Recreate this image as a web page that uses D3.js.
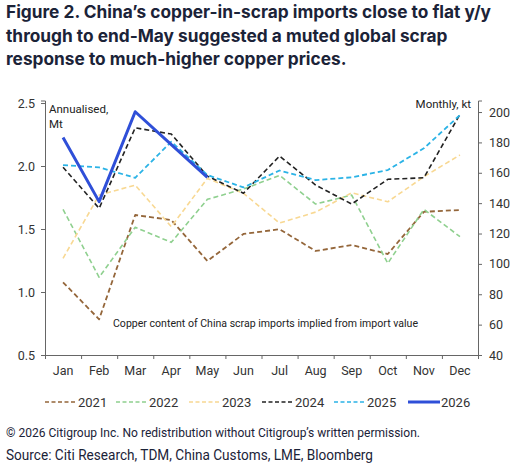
<!DOCTYPE html>
<html>
<head>
<meta charset="utf-8">
<script src="https://cdn.jsdelivr.net/npm/d3@7"></script>
<style>
  body { margin: 0; background: #fff; }
  svg { display: block; font-family: Roboto, "Open Sans", sans-serif; }
</style>
</head>
<body>
<div id="chart"></div>
<script>
// months on the x axis
const months = ['Jan', 'Feb', 'Mar', 'Apr', 'May', 'Jun', 'Jul', 'Aug', 'Sep', 'Oct', 'Nov', 'Dec'];
// monthly copper-in-scrap imports, kt (right axis)
const y2021 = [87.9, 63.5, 132.2, 128.9, 101.9, 119.7, 122.8, 108.5, 112.4, 106.5, 134.3, 135.5];
const y2022 = [135.9, 91.2, 124.1, 114.2, 142.5, 149.3, 158.3, 139.4, 145.3, 100.4, 135.9, 117.9];
const y2023 = [103.7, 145.3, 151.9, 124.5, 156.3, 146.5, 126.9, 134.1, 146.8, 140.9, 157.4, 171.7];
const y2024 = [163.6, 136.6, 189.6, 185.5, 157.8, 146.5, 171.0, 151.9, 139.4, 155.7, 156.7, 198.5];
const y2025 = [165.1, 163.6, 156.7, 180.5, 158.5, 150.4, 161.5, 155.2, 157.0, 161.8, 176.1, 198.0];
const y2026 = [183.3, 141.0, 200.2, 178.6, 157.0];
const years = ['2021', '2022', '2023', '2024', '2025', '2026'];
const leftTicks = [0.5, 1.0, 1.5, 2.0, 2.5];
const rightTicks = [40, 60, 80, 100, 120, 140, 160, 180, 200];

const series = [
  {name: years[0], values: y2021, color: '#94663a', dash: '5,3', width: 1.8},
  {name: years[1], values: y2022, color: '#8fd08f', dash: '5,3', width: 1.6},
  {name: years[2], values: y2023, color: '#f8d892', dash: '5,3', width: 1.6},
  {name: years[3], values: y2024, color: '#222222', dash: '5,3', width: 1.6},
  {name: years[4], values: y2025, color: '#2bb3e6', dash: '5,3', width: 1.8},
  {name: years[5], values: y2026, color: '#2f4fd8', dash: null, width: 3}
];

const W = 518, H = 463;
const svg = d3.select('#chart').append('svg')
  .attr('width', W).attr('height', H);

// title
const title = [
  'Figure 2. China\u2019s copper-in-scrap imports close to flat y/y',
  'through to end-May suggested a muted global scrap',
  'response to much-higher copper prices.'
];
svg.append('g').selectAll('text').data(title).join('text')
  .attr('x', 6)
  .attr('y', (d, i) => 18 + i * 23.5)
  .attr('font-family', 'Inter, "Open Sans", sans-serif')
  .attr('font-weight', 700)
  .attr('font-size', 17.3)
  .attr('fill', '#1b2338')
  .text(d => d);

// scales
const plot = {left: 45, right: 478, top: 100.5, bottom: 355};
const xScale = d3.scaleBand().domain(months).range([plot.left, plot.right]);
const xTick = d3.scaleLinear().domain([0, 12]).range([plot.left, plot.right]);
const yLeft = d3.scaleLinear().domain([0.5, 2.52]).range([plot.bottom, plot.top]);
const yRight = d3.scaleLinear().domain([40, 207.6]).range([plot.bottom, plot.top]);

const axisColor = '#666';
const textColor = '#333';

function styleAxis(g) {
  g.selectAll('.domain').attr('stroke', axisColor);
  g.selectAll('.tick line').attr('stroke', axisColor);
  g.selectAll('.tick text').attr('fill', textColor)
    .attr('font-family', 'Roboto, sans-serif').attr('font-size', 12.5);
}

// left axis
svg.append('g')
  .attr('transform', `translate(${plot.left},0)`)
  .call(d3.axisLeft(yLeft).tickValues(leftTicks).tickFormat(d3.format('.1f'))
    .tickSizeOuter(0).tickSize(4).tickPadding(6))
  .call(styleAxis);

// right axis
svg.append('g')
  .attr('transform', `translate(${plot.right},0)`)
  .call(d3.axisRight(yRight).tickValues(rightTicks).tickSizeOuter(0).tickSize(4).tickPadding(7))
  .call(styleAxis);

// x axis: tick marks on band edges, labels in the middle
svg.append('g')
  .attr('transform', `translate(0,${plot.bottom})`)
  .call(d3.axisBottom(xTick).tickValues(d3.range(13)).tickFormat('').tickSizeOuter(0).tickSize(4))
  .call(styleAxis);
svg.append('g')
  .attr('transform', `translate(0,${plot.bottom})`)
  .call(d3.axisBottom(xScale).tickSize(0).tickPadding(11))
  .call(g => g.select('.domain').remove())
  .call(styleAxis);

// lines
const line = d3.line()
  .x((d, i) => xScale(months[i]) + xScale.bandwidth() / 2)
  .y(d => yRight(d));

svg.append('g').selectAll('path').data(series).join('path')
  .attr('d', d => line(d.values))
  .attr('fill', 'none')
  .attr('stroke', d => d.color)
  .attr('stroke-width', d => d.width)
  .attr('stroke-dasharray', d => d.dash)
  .attr('stroke-linejoin', 'round');

// in-chart notes
const note = svg.append('g').attr('fill', '#222').attr('font-size', 11.5)
  .attr('font-family', 'Roboto, sans-serif');
note.append('text').attr('x', 49).attr('y', 113).text('Annualised,');
note.append('text').attr('x', 49).attr('y', 128).text('Mt');
note.append('text').attr('x', 471).attr('y', 108).attr('text-anchor', 'end').text('Monthly, kt');
note.append('text').attr('x', 113).attr('y', 327)
  .attr('textLength', 305).attr('lengthAdjust', 'spacingAndGlyphs')
  .text('Copper content of China scrap imports implied from import value');

// legend
const legendX = [45, 116, 189, 262, 334, 408];
const legend = svg.append('g').selectAll('g').data(series).join('g')
  .attr('transform', (d, i) => `translate(${legendX[i]},402)`);
legend.append('line')
  .attr('x1', 0).attr('x2', 32)
  .attr('stroke', d => d.color)
  .attr('stroke-width', d => d.dash ? 1.6 : 3)
  .attr('stroke-dasharray', d => d.dash ? '4,2.5' : null);
legend.append('text')
  .attr('x', 33).attr('y', 5)
  .attr('font-size', 13).attr('fill', textColor)
  .text(d => d.name);

// footer
svg.append('text').attr('x', 6).attr('y', 437)
  .attr('font-size', 13.5).attr('fill', '#1b2338')
  .attr('textLength', 414).attr('lengthAdjust', 'spacingAndGlyphs')
  .text('\u00a9 2026 Citigroup Inc. No redistribution without Citigroup\u2019s written permission.');
svg.append('text').attr('x', 6).attr('y', 460)
  .attr('font-size', 14.5).attr('fill', '#1b2338')
  .attr('textLength', 367).attr('lengthAdjust', 'spacingAndGlyphs')
  .text('Source: Citi Research, TDM, China Customs, LME, Bloomberg');
</script>
</body>
</html>
